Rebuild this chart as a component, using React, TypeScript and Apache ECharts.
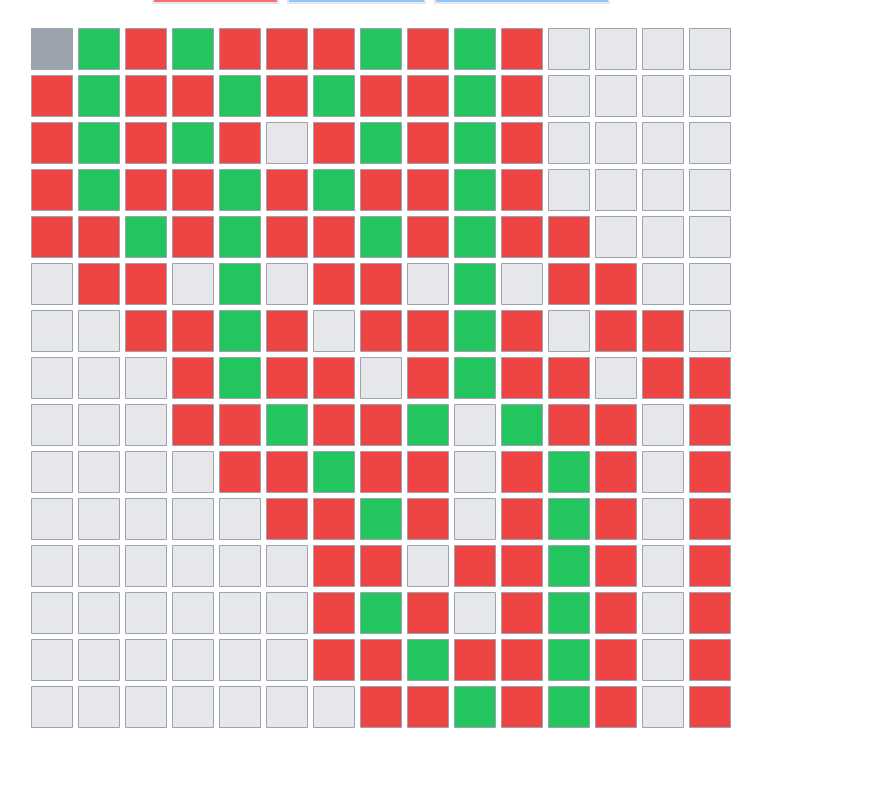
import React, { useEffect, useRef } from "react";
import * as echarts from "echarts";

// Cell states: e = empty, r = red, g = green, G = gray (current)
const rowLabels = ["0","1","2","3","4","5","6","7","8","9","10","11","12","13","14"];
const colLabels = ["0","1","2","3","4","5","6","7","8","9","10","11","12","13","14"];
const gridRows = [
  "G g r g r r r g r g r e e e e",
  "r g r r g r g r r g r e e e e",
  "r g r g r e r g r g r e e e e",
  "r g r r g r g r r g r e e e e",
  "r r g r g r r g r g r r e e e",
  "e r r e g e r r e g e r r e e",
  "e e r r g r e r r g r e r r e",
  "e e e r g r r e r g r r e r r",
  "e e e r r g r r g e g r r e r",
  "e e e e r r g r r e r g r e r",
  "e e e e e r r g r e r g r e r",
  "e e e e e e r r e r r g r e r",
  "e e e e e e r g r e r g r e r",
  "e e e e e e r r g r r g r e r",
  "e e e e e e e r r g r g r e r",
];
const stateColors: Record<string, string> = {
  e: "#e5e7eb",
  r: "#ef4444",
  g: "#22c55e",
  G: "#9ca3af",
};
const stateCodes = ["e", "r", "g", "G"];

export default function App() {
  const ref = useRef<HTMLDivElement>(null);
  useEffect(() => {
    if (!ref.current) return;
    const chart = echarts.init(ref.current, null, { renderer: "svg" });
    const data: number[][] = [];
    gridRows.forEach((row, j) => {
      row.split(" ").forEach((s, i) => {
        data.push([i, j, stateCodes.indexOf(s)]);
      });
    });
    chart.setOption({
      animation: false,
      grid: { left: 28.5, top: 25.5, width: 705, height: 705 },
      xAxis: { type: "category", data: colLabels, show: false },
      yAxis: { type: "category", data: rowLabels, inverse: true, show: false },
      graphic: [
        { type: "rect", shape: { x: 152, y: -30, width: 127, height: 34 }, style: { fill: "#e5e7eb" } },
        { type: "rect", shape: { x: 154, y: -30, width: 123, height: 32 }, style: { fill: "#f87171" } },
        { type: "rect", shape: { x: 287, y: -30, width: 139, height: 34 }, style: { fill: "#e5e7eb" } },
        { type: "rect", shape: { x: 289, y: -30, width: 135, height: 32 }, style: { fill: "#93c5fd" } },
        { type: "rect", shape: { x: 434, y: -30, width: 176, height: 34 }, style: { fill: "#e5e7eb" } },
        { type: "rect", shape: { x: 436, y: -30, width: 172, height: 32 }, style: { fill: "#93c5fd" } },
      ],
      series: [
        {
          type: "custom",
          data,
          renderItem: (params: any, api: any) => {
            const c = api.coord([api.value(0), api.value(1)]);
            const code = stateCodes[api.value(2)];
            return {
              type: "rect",
              shape: {
                x: Math.round(c[0] - 21) + 0.5,
                y: Math.round(c[1] - 21) + 0.5,
                width: 41,
                height: 41,
              },
              style: { fill: stateColors[code], stroke: "#9ca3af", lineWidth: 1 },
            };
          },
        },
      ],
    });
    return () => chart.dispose();
  }, []);
  return (
    <div
      ref={ref}
      style={{ position: "fixed", left: 0, top: 0, width: 880, height: 794, background: "#fff" }}
    />
  );
}
